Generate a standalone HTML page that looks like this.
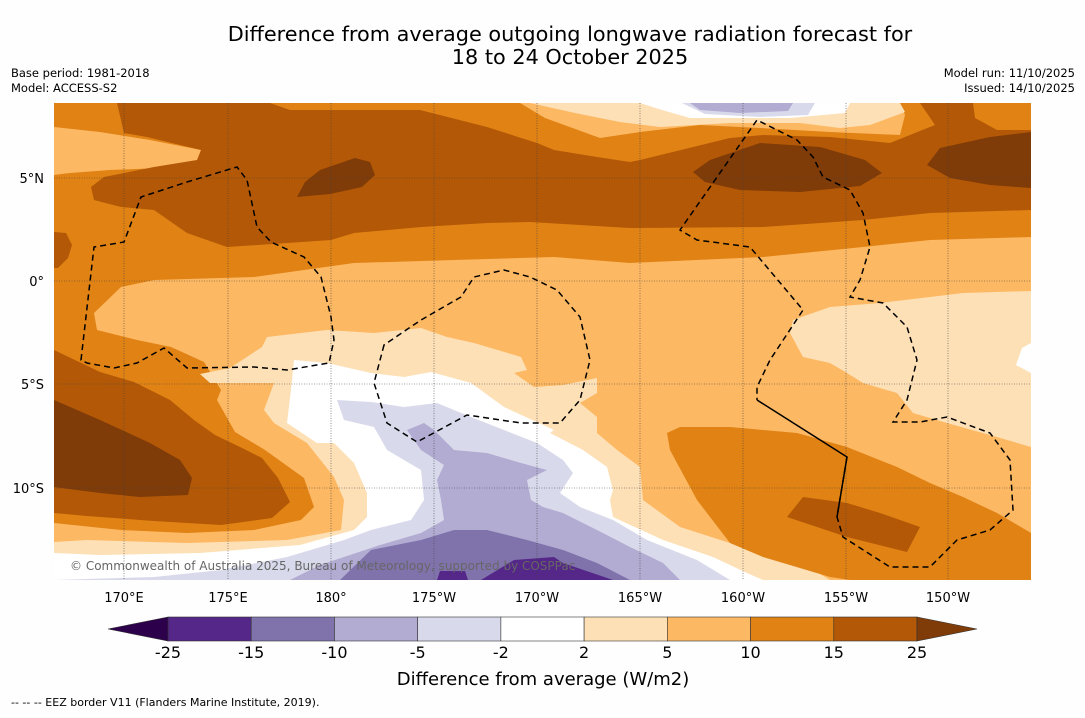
<!DOCTYPE html>
<html><head><meta charset="utf-8">
<style>
html,body{margin:0;padding:0;background:#fff;}
body{width:1085px;height:713px;overflow:hidden;font-family:"Liberation Sans","DejaVu Sans",sans-serif;}
svg text{font-family:"DejaVu Sans","Liberation Sans",sans-serif;}
</style></head>
<body>
<svg width="1085" height="713" viewBox="0 0 1085 713" xmlns="http://www.w3.org/2000/svg">
<rect x="0" y="0" width="1085" height="713" fill="#fefefe"/>
<text x="570" y="41" font-size="20.8" text-anchor="middle" fill="#000">Difference from average outgoing longwave radiation forecast for</text>
<text x="570" y="64" font-size="20.8" text-anchor="middle" fill="#000">18 to 24 October 2025</text>
<text x="11" y="77" font-size="11.5">Base period: 1981-2018</text>
<text x="11" y="92" font-size="11.5">Model: ACCESS-S2</text>
<text x="1075" y="77" font-size="11.5" text-anchor="end">Model run: 11/10/2025</text>
<text x="1075" y="92" font-size="11.5" text-anchor="end">Issued: 14/10/2025</text>

<defs><clipPath id="mapclip"><rect x="54" y="103" width="977" height="477"/></clipPath></defs>
<g clip-path="url(#mapclip)">
<rect x="54" y="103" width="977" height="477" fill="#fdb863"/>
<polygon fill="#e08214" points="54,103 520,103 545,118 600,138 640,132 700,125 760,128 830,132 900,135 905,115 900,103 1031,103 1031,237 930,240 863,247 763,257 630,263 554,257 454,260 354,263 254,277 154,280 121,287 94,313 97,330 137,340 171,347 204,362 221,390 217,400 235,432 265,450 304,478 314,507 301,520 254,530 187,533 121,530 54,523"/>
<polygon fill="#fdb863" points="54,127 100,132 150,140 201,150 200,162 160,168 110,170 70,173 54,175"/>
<polygon fill="#fee0b6" points="530,103 900,103 905,112 870,125 840,128 800,123 730,123 660,127 620,122 575,113"/>
<polygon fill="#ffffff" points="640,103 850,103 845,113 790,118 690,118 662,110"/>
<polygon fill="#d8daeb" points="682,103 815,103 808,115 760,117 705,114"/>
<polygon fill="#b2abd2" points="690,103 793,103 788,111 740,113 700,110"/>
<polygon fill="#b35806" points="117,103 270,103 290,110 420,110 487,127 537,143 554,150 597,157 630,162 640,160 730,138 763,135 830,137 890,143 935,125 920,103 973,103 975,118 997,130 1031,130 1031,210 930,213 863,220 763,227 630,228 530,222 487,223 421,227 354,233 331,240 287,243 227,247 187,233 154,210 121,207 94,200 91,187 104,177 154,167 197,160 201,150 147,137 124,133"/>
<polygon fill="#b35806" points="54,232 66,233 72,245 68,258 58,268 54,268"/>
<polygon fill="#7f3b08" points="297,197 305,182 320,170 355,158 370,162 375,175 362,187 330,194"/>
<polygon fill="#7f3b08" points="693,172 710,160 760,143 820,147 865,160 882,173 860,186 800,192 740,190 705,182"/>
<polygon fill="#7f3b08" points="927,165 940,148 990,137 1031,132 1031,188 990,185 950,178"/>
<polygon fill="#b35806" points="54,350 100,372 134,382 170,400 194,420 215,435 240,447 262,458 278,478 290,502 272,518 221,525 154,521 87,516 54,513"/>
<polygon fill="#7f3b08" points="54,400 100,420 150,443 180,460 192,478 188,495 140,497 100,493 54,487"/>
<polygon fill="#fee0b6" points="267,337 301,333 327,330 374,333 421,328 447,337 474,343 521,357 527,370 514,373 534,387 563,385 597,378 597,393 580,403 597,417 597,433 617,450 640,467 643,500 680,527 730,543 797,560 830,580 54,580 54,542 87,540 187,543 287,540 341,530 344,500 334,477 307,443 274,423 264,410 274,383 210,383 200,374 230,368 262,347"/>
<polygon fill="#ffffff" points="294,360 327,363 371,373 404,377 431,372 471,383 504,407 554,430 550,433 583,450 607,467 613,490 610,500 613,517 663,540 713,557 747,573 763,580 54,580 54,553 100,555 200,553 300,545 354,530 367,517 367,493 354,463 334,443 317,443 287,423 291,390"/>
<polygon fill="#d8daeb" points="337,400 371,402 404,407 437,403 471,417 504,430 537,443 563,460 573,473 560,493 580,507 613,520 647,540 697,560 730,580 54,580 154,577 221,570 287,557 344,540 371,530 411,520 424,500 421,470 387,450 374,427 344,420"/>
<polygon fill="#b2abd2" points="407,430 424,423 434,430 454,450 487,453 521,463 547,470 527,480 531,500 543,507 563,513 597,530 630,547 663,563 680,580 290,580 320,565 380,545 421,533 444,520 441,500 437,480 444,465 421,450"/>
<polygon fill="#8073ac" points="340,580 371,550 421,540 454,530 487,530 527,540 563,550 597,563 630,580"/>
<polygon fill="#542788" points="481,580 514,560 554,557 563,563 613,580"/>
<polygon fill="#542788" points="437,580 440,571 465,571 468,580"/>
<polygon fill="#fee0b6" points="793,320 830,307 880,303 930,297 963,293 1031,291 1031,447 997,437 947,423 913,413 897,393 863,383 847,373 830,363 803,357 790,333"/>
<polygon fill="#ffffff" points="1031,343 1022,348 1016,365 1031,373"/>
<polygon fill="#e08214" points="667,433 680,427 730,427 797,433 847,447 897,467 930,483 963,497 997,513 1031,533 1031,580 850,580 830,577 763,557 730,543 697,500 670,450"/>
<polygon fill="#b35806" points="787,517 803,497 847,503 880,513 920,527 907,552 847,537"/>
<g stroke="#444" stroke-width="0.6" stroke-dasharray="1,1.5" fill="none">
<line x1="124" y1="103" x2="124" y2="580"/><line x1="228" y1="103" x2="228" y2="580"/><line x1="331" y1="103" x2="331" y2="580"/><line x1="434" y1="103" x2="434" y2="580"/><line x1="537" y1="103" x2="537" y2="580"/><line x1="640" y1="103" x2="640" y2="580"/><line x1="743" y1="103" x2="743" y2="580"/><line x1="846" y1="103" x2="846" y2="580"/><line x1="948" y1="103" x2="948" y2="580"/>
<line x1="54" y1="178" x2="1031" y2="178"/><line x1="54" y1="281" x2="1031" y2="281"/><line x1="54" y1="384" x2="1031" y2="384"/><line x1="54" y1="488" x2="1031" y2="488"/>
</g>
<g stroke="#000" stroke-width="1.5" fill="none">
<polygon stroke-dasharray="6,4" points="81,360 94,247 124,242 141,197 187,182 237,167 247,180 257,227 271,242 304,257 321,277 331,317 334,340 329,363 287,370 254,367 187,368 164,348 137,363 114,368 87,363"/>
<polygon stroke-dasharray="6,4" points="384,345 374,383 387,423 417,442 467,415 521,423 560,423 580,400 590,360 580,317 557,290 530,277 504,270 474,277 461,297 421,320"/>
<polyline stroke-dasharray="6,4" points="847,457 837,517 843,537 890,567 930,567 957,540 990,530 1013,510 1010,460 990,433 947,417 920,422 893,422 907,400 917,360 907,327 883,303 850,297 860,280 870,247 863,213 850,190 823,177 813,157 797,140 757,120 680,230 697,240 750,247 803,310 770,360 757,387 757,400"/>
<polyline points="757,400 847,457 837,517"/>
</g>
<text x="70" y="570" font-size="12" fill="#666">© Commonwealth of Australia 2025, Bureau of Meteorology, supported by COSPPac</text>
</g>
<g font-size="13" text-anchor="middle">
<text x="124" y="602">170°E</text><text x="228" y="602">175°E</text><text x="331" y="602">180°</text><text x="434" y="602">175°W</text><text x="537" y="602">170°W</text><text x="640" y="602">165°W</text><text x="743" y="602">160°W</text><text x="846" y="602">155°W</text><text x="948" y="602">150°W</text>
</g>
<g font-size="13" text-anchor="end">
<text x="44" y="183">5°N</text><text x="44" y="286">0°</text><text x="44" y="389">5°S</text><text x="44" y="493">10°S</text>
</g>
<g id="colorbar"></g>
<text x="543" y="685" font-size="18" text-anchor="middle">Difference from average (W/m2)</text>
<text x="11" y="706" font-size="11">-- -- -- EEZ border V11 (Flanders Marine Institute, 2019).</text>
</svg>
<script>
const levels = [-25, -15, -10, -5, -2, 2, 5, 10, 15, 25];
const binColors = ["#542788","#8073ac","#b2abd2","#d8daeb","#ffffff","#fee0b6","#fdb863","#e08214","#b35806"];
const extendColors = ["#2d004b","#7f3b08"];
(function(){
  const NS="http://www.w3.org/2000/svg";
  const g=document.getElementById('colorbar');
  const x0=168,x1=917,y0=617,h=24;
  const n=levels.length-1;
  const xs=i=>x0+(x1-x0)*i/n;
  for(let i=0;i<n;i++){
    const r=document.createElementNS(NS,'rect');
    r.setAttribute('x',xs(i));r.setAttribute('y',y0);
    r.setAttribute('width',xs(i+1)-xs(i));r.setAttribute('height',h);
    r.setAttribute('fill',binColors[i]);r.setAttribute('stroke','#333');r.setAttribute('stroke-width','0.6');
    
    
    g.appendChild(r);
  }
  const lt=document.createElementNS(NS,'polygon');
  lt.setAttribute('points',`${x0},${y0} ${x0-60},${y0+h/2} ${x0},${y0+h}`);
  lt.setAttribute('fill',extendColors[0]);lt.setAttribute('stroke','#333');lt.setAttribute('stroke-width','0.6');
  
  
  g.appendChild(lt);
  const rt=document.createElementNS(NS,'polygon');
  rt.setAttribute('points',`${x1},${y0} ${x1+60},${y0+h/2} ${x1},${y0+h}`);
  rt.setAttribute('fill',extendColors[1]);rt.setAttribute('stroke','#333');rt.setAttribute('stroke-width','0.6');
  
  
  g.appendChild(rt);
  levels.forEach((v,i)=>{
    const t=document.createElementNS(NS,'text');
    t.setAttribute('x',xs(i));t.setAttribute('y',658);
    t.setAttribute('font-size','16');t.setAttribute('text-anchor','middle');
    t.textContent=String(v);
    
    
    g.appendChild(t);
  });
})();
</script>
</body></html>
